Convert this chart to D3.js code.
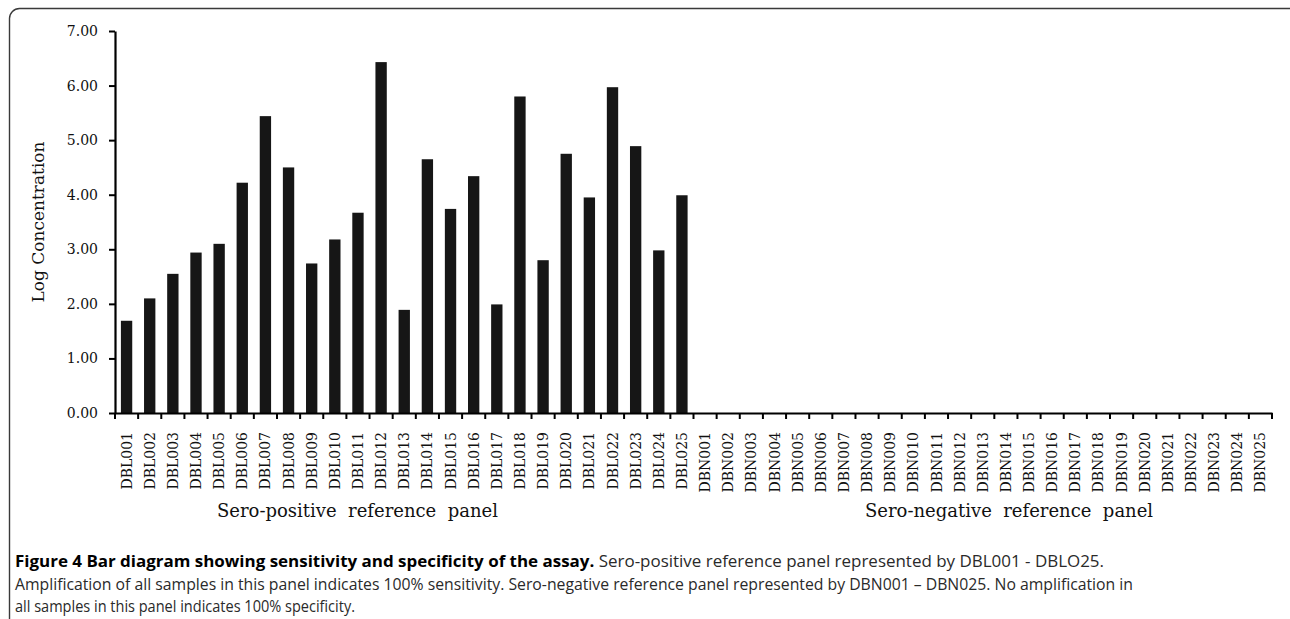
<!DOCTYPE html>
<html>
<head>
<meta charset="utf-8">
<script src="https://cdn.jsdelivr.net/npm/d3@7"></script>
<style>
  html, body { margin: 0; padding: 0; background: #fff; }
  svg { display: block; }
</style>
</head>
<body>
<svg id="chart" width="1290" height="619"></svg>
<script>
const positiveCategories = ["DBL001","DBL002","DBL003","DBL004","DBL005","DBL006","DBL007","DBL008","DBL009","DBL010","DBL011","DBL012","DBL013","DBL014","DBL015","DBL016","DBL017","DBL018","DBL019","DBL020","DBL021","DBL022","DBL023","DBL024","DBL025"];
const negativeCategories = ["DBN001","DBN002","DBN003","DBN004","DBN005","DBN006","DBN007","DBN008","DBN009","DBN010","DBN011","DBN012","DBN013","DBN014","DBN015","DBN016","DBN017","DBN018","DBN019","DBN020","DBN021","DBN022","DBN023","DBN024","DBN025"];
const positiveValues = [1.69, 2.10, 2.55, 2.94, 3.10, 4.22, 5.44, 4.50, 2.74, 3.18, 3.67, 6.43, 1.89, 4.65, 3.74, 4.34, 1.99, 5.80, 2.80, 4.75, 3.95, 5.97, 4.89, 2.98, 3.99];
const negativeValues = [0, 0, 0, 0, 0, 0, 0, 0, 0, 0, 0, 0, 0, 0, 0, 0, 0, 0, 0, 0, 0, 0, 0, 0, 0];
const yTicks = [0, 1, 2, 3, 4, 5, 6, 7];
const yTitle = "Log Concentration";
const groupLabels = ["Sero-positive  reference  panel", "Sero-negative  reference  panel"];
const captionBold = "Figure 4 Bar diagram showing sensitivity and specificity of the assay.";
const captionLines = [
  " Sero-positive reference panel represented by DBL001 - DBLO25.",
  "Amplification of all samples in this panel indicates 100% sensitivity. Sero-negative reference panel represented by DBN001 \u2013 DBN025. No amplification in",
  "all samples in this panel indicates 100% specificity."
];

const categories = positiveCategories.concat(negativeCategories);
const values = positiveValues.concat(negativeValues);
const data = categories.map((c, i) => ({ cat: c, val: values[i] }));

const svg = d3.select("#chart");

// frame
svg.append("rect")
  .attr("x", 9.5).attr("y", 8.5)
  .attr("width", 1290).attr("height", 620)
  .attr("rx", 10).attr("ry", 10)
  .attr("fill", "none").attr("stroke", "#3a3a3a").attr("stroke-width", 1.4);

const x = d3.scaleBand().domain(categories).range([115, 1272]).paddingInner(0.51).paddingOuter(0.255);
const y = d3.scaleLinear().domain([0, 7]).range([413, 31]);

// bars
svg.append("g").selectAll("rect").data(data.filter(d => d.val > 0)).join("rect")
  .attr("x", d => x(d.cat))
  .attr("y", d => y(d.val))
  .attr("width", x.bandwidth())
  .attr("height", d => y(0) - y(d.val))
  .attr("fill", "#161616");

// y axis
const yAxis = d3.axisLeft(y).tickValues(yTicks).tickFormat(d3.format(".2f")).tickSize(6).tickPadding(11).tickSizeOuter(0);
const gy = svg.append("g").attr("transform", "translate(115,0)").call(yAxis);
gy.select(".domain").attr("stroke", "#000").attr("stroke-width", 2.2);
gy.selectAll(".tick line").attr("stroke", "#000").attr("stroke-width", 2);
gy.selectAll(".tick text").attr("font-family", "DejaVu Serif").attr("font-size", 14).attr("fill", "#111");

// x axis labels
const xAxis = d3.axisBottom(x).tickSize(0).tickPadding(0).tickSizeOuter(0);
const gx = svg.append("g").attr("transform", "translate(0,413)").call(xAxis);
gx.select(".domain").attr("stroke", "#000").attr("stroke-width", 2.2);
gx.selectAll(".tick text")
  .attr("font-family", "DejaVu Serif").attr("font-size", 14).attr("fill", "#111")
  .attr("transform", "rotate(-90)")
  .attr("text-anchor", "end")
  .attr("x", -19).attr("y", 0).attr("dy", "0.36em");

// boundary ticks
const step = x.step();
const r0 = x.range()[0];
svg.append("g").selectAll("line").data(d3.range(categories.length + 1)).join("line")
  .attr("x1", i => r0 + i * step).attr("x2", i => r0 + i * step)
  .attr("y1", 413).attr("y2", 419)
  .attr("stroke", "#000").attr("stroke-width", 2);

// y title
svg.append("text")
  .attr("transform", "translate(44,222) rotate(-90)")
  .attr("text-anchor", "middle")
  .attr("font-family", "DejaVu Serif").attr("font-size", 17).attr("fill", "#111")
  .text(yTitle);

// group labels
svg.append("text").attr("x", 217).attr("y", 517)
  .attr("font-family", "DejaVu Serif").attr("font-size", 18).attr("fill", "#111")
  .style("white-space", "pre")
  .text(groupLabels[0]);
svg.append("text").attr("x", 865).attr("y", 517)
  .attr("font-family", "DejaVu Serif").attr("font-size", 18).attr("fill", "#111")
  .style("white-space", "pre")
  .text(groupLabels[1]);

// caption
const cap = svg.append("g").attr("font-family", "Open Sans").attr("font-size", 16).attr("fill", "#2a2a2a");
const t1 = cap.append("text").attr("x", 15).attr("y", 567).style("white-space", "pre")
  .attr("textLength", 1089).attr("lengthAdjust", "spacingAndGlyphs");
t1.append("tspan").attr("font-weight", "bold").attr("fill", "#000").text(captionBold);
t1.append("tspan").text(captionLines[0]);
cap.append("text").attr("x", 15).attr("y", 590).attr("textLength", 1118).attr("lengthAdjust", "spacingAndGlyphs").text(captionLines[1]);
cap.append("text").attr("x", 15).attr("y", 612).attr("textLength", 340).attr("lengthAdjust", "spacingAndGlyphs").text(captionLines[2]);
</script>
</body>
</html>
